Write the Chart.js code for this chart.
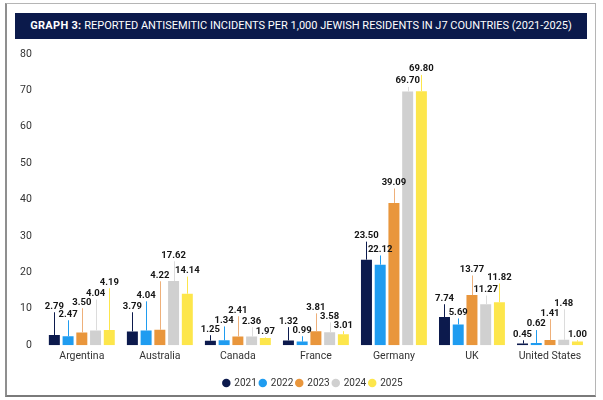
<!DOCTYPE html>
<html>
<head>
<meta charset="utf-8">
<script src="https://cdn.jsdelivr.net/npm/chart.js@4/dist/chart.umd.min.js"></script>
<style>
  html, body { margin: 0; padding: 0; background: #fff; }
  body { width: 603px; height: 400px; position: relative; overflow: hidden; font-family: Roboto, "Liberation Sans", sans-serif; }
  #frame { position: absolute; left: 5px; top: 3px; width: 591px; height: 394px; border: 1px solid #b5b5b5; border-left: 2px solid #8f8f8f; border-bottom: 2px solid #7a7a7a; box-sizing: border-box; }
  #banner { position: absolute; left: 15px; top: 13px; width: 572px; height: 26px; background: #0b1a4b; color: #fff; font-size: 11px; line-height: 26px; text-align: center; letter-spacing: 0; white-space: nowrap; }
  #banner b { font-weight: 700; letter-spacing: 0.3px; }
  #wrap { position: absolute; left: 0; top: 0; width: 603px; height: 400px; }
</style>
</head>
<body>
<div id="frame"></div>
<div id="wrap"><canvas id="c" width="603" height="400"></canvas></div>
<div id="banner"><b>GRAPH 3:</b> REPORTED ANTISEMITIC INCIDENTS PER 1,000 JEWISH RESIDENTS IN J7 COUNTRIES (2021-2025)</div>
<script>
const countries = ['Argentina', 'Australia', 'Canada', 'France', 'Germany', 'UK', 'United States'];
const years = ['2021', '2022', '2023', '2024', '2025'];
const v2021 = [2.79, 3.79, 1.25, 1.32, 23.50, 7.74, 0.45];
const v2022 = [2.47, 4.04, 1.34, 0.99, 22.12, 5.69, 0.62];
const v2023 = [3.50, 4.22, 2.41, 3.81, 39.09, 13.77, 1.41];
const v2024 = [4.04, 17.62, 2.36, 3.58, 69.70, 11.27, 1.48];
const v2025 = [4.19, 14.14, 1.97, 3.01, 69.80, 11.82, 1.00];
const yTicks = [0, 10, 20, 30, 40, 50, 60, 70, 80];
// where each callout label sits, in axis units
const lbl2021 = [10.7, 10.7, 4.4, 6.6, 30.1, 12.9, 3.0];
const lbl2022 = [8.5, 13.7, 6.8, 4.1, 26.3, 9.0, 5.8];
const lbl2023 = [11.8, 19.2, 9.6, 10.4, 44.7, 20.8, 8.8];
const lbl2024 = [14.2, 24.7, 6.6, 7.9, 72.6, 15.3, 11.5];
const lbl2025 = [17.3, 20.5, 3.8, 5.5, 75.9, 18.6, 3.0];

const colors = ['#0c1a4d', '#1f9cf0', '#e9963c', '#d0d0d0', '#fde64b'];
const lineColors = ['#0c1a4d', '#1f9cf0', '#eeb07a', '#dcdcdc', '#fde64b'];
const values = [v2021, v2022, v2023, v2024, v2025];
const labelPos = [lbl2021, lbl2022, lbl2023, lbl2024, lbl2025];

const callouts = {
  id: 'callouts',
  afterDatasetsDraw(chart) {
    const ctx = chart.ctx;
    const ys = chart.scales.y;
    ctx.save();
    ctx.font = 'bold 9.5px Roboto, "Liberation Sans", sans-serif';
    ctx.textAlign = 'center';
    ctx.textBaseline = 'middle';
    chart.data.datasets.forEach((ds, di) => {
      const meta = chart.getDatasetMeta(di);
      meta.data.forEach((bar, i) => {
        const ly = ys.getPixelForValue(labelPos[di][i]);
        ctx.strokeStyle = lineColors[di];
        ctx.lineWidth = 1;
        ctx.beginPath();
        ctx.moveTo(Math.round(bar.x) + 0.5, ly + 6);
        ctx.lineTo(Math.round(bar.x) + 0.5, bar.y);
        ctx.stroke();
        ctx.fillStyle = '#151515';
        ctx.fillText(ds.data[i].toFixed(2), bar.x, ly);
      });
    });
    ctx.restore();
  }
};

// nudge the legend block to the right, as in the reference
const legendShift = {
  id: 'legendShift',
  afterLayout(chart) {
    if (chart.legend) { chart.legend.left += 14; chart.legend.right += 14; }
  }
};

new Chart(document.getElementById('c'), {
  type: 'bar',
  data: {
    labels: countries,
    datasets: years.map((y, i) => ({
      label: y,
      data: values[i],
      backgroundColor: colors[i],
      borderWidth: 0,
      categoryPercentage: 0.88,
      barPercentage: 0.8
    }))
  },
  options: {
    responsive: false,
    animation: false,
    devicePixelRatio: 1,
    layout: { padding: { top: 54, left: 9, right: 14, bottom: 2 } },
    scales: {
      x: {
        grid: { display: false, drawTicks: false },
        border: { display: false },
        ticks: { color: '#333', font: { size: 10.5, family: 'Roboto' }, padding: 5 }
      },
      y: {
        min: 0, max: 80,
        afterBuildTicks(scale) { scale.ticks = yTicks.map(v => ({ value: v })); },
        grid: { display: false, drawTicks: false },
        border: { display: false },
        ticks: { color: '#333', font: { size: 10.5, family: 'Roboto' }, padding: 11 }
      }
    },
    plugins: {
      legend: {
        position: 'bottom',
        title: { display: true, text: ' ', font: { size: 1 }, padding: { top: 6, bottom: 0 } },
        labels: {
          usePointStyle: true, pointStyle: 'circle', boxWidth: 6, boxHeight: 6,
          color: '#333', font: { size: 10, family: 'Roboto' }, padding: 3
        }
      },
      tooltip: { enabled: false }
    }
  },
  plugins: [callouts, legendShift]
});
</script>
</body>
</html>
